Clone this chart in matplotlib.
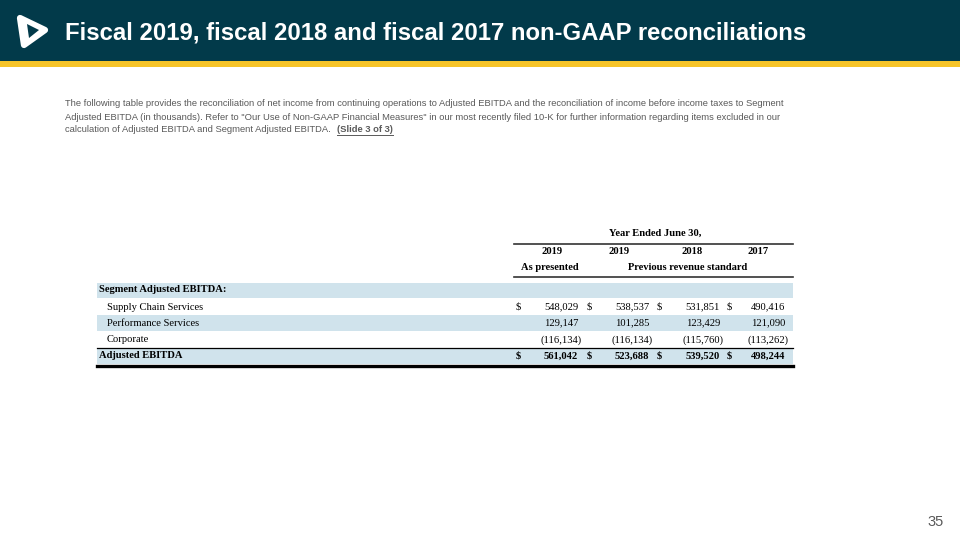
import matplotlib
matplotlib.use("Agg")
import matplotlib.pyplot as plt
from matplotlib.patches import Rectangle, Polygon

# data
title = "Fiscal 2019, fiscal 2018 and fiscal 2017 non-GAAP reconciliations"
intro_lines = [
    "The following table provides the reconciliation of net income from continuing operations to Adjusted EBITDA and the reconciliation of income before income taxes to Segment",
    "Adjusted EBITDA (in thousands). Refer to \"Our Use of Non-GAAP Financial Measures\" in our most recently filed 10-K for further information regarding items excluded in our",
    "calculation of Adjusted EBITDA and Segment Adjusted EBITDA.",
]
slide_note = "(Slide 3 of 3)"
years = ["2019", "2019", "2018", "2017"]
row_labels = ["Segment Adjusted EBITDA:", "Supply Chain Services", "Performance Services",
              "Corporate", "Adjusted EBITDA"]
supply_chain = [548029, 538537, 531851, 490416]
performance = [129147, 101285, 123429, 121090]
corporate = [-116134, -116134, -115760, -113262]
adjusted = [561042, 523688, 539520, 498244]
page_no = "35"

navy = "#023a4a"
gold = "#f6c429"
band = "#d0e3ec"
grey = "#595959"

fig = plt.figure(figsize=(9.6, 5.4), dpi=100)
ax = fig.add_axes([0, 0, 1, 1])
ax.set_xlim(0, 960)
ax.set_ylim(540, 0)
ax.axis("off")

# header band
ax.add_patch(Rectangle((0, 0), 960, 61, color=navy, lw=0))
ax.add_patch(Rectangle((0, 61), 960, 6, color=gold, lw=0))
ax.add_patch(Polygon([(20, 18), (45, 30), (24, 45)], closed=True, fc="white", ec="white",
                     lw=4.5, joinstyle="round"))
ax.add_patch(Polygon([(27, 24), (39, 30), (29, 38)], closed=True, fc=navy, lw=0))
ax.text(65, 33, title, color="white", fontsize=17.2, fontweight="bold",
        family="Liberation Sans", va="center", ha="left")

# intro text
fig.canvas.draw()
renderer = fig.canvas.get_renderer()
last = None
for i, line in enumerate(intro_lines):
    last = ax.text(65, 104 + i * 13, line, color=grey, fontsize=6.75, family="Liberation Sans",
                   va="center", ha="left")
bb = last.get_window_extent(renderer)
note_x = ax.transData.inverted().transform((bb.x1, 0))[0] + 6
note = ax.text(note_x, 130, slide_note, color=grey, fontsize=6.75, family="Liberation Sans",
               fontweight="bold", va="center", ha="left")
nb = note.get_window_extent(renderer)
note_x1 = ax.transData.inverted().transform((nb.x1, 0))[0]
ax.plot([note_x, note_x1], [135, 135], color=grey, lw=0.7)

# table
serif = "Liberation Serif"
fs = 7.6
x0, x1 = 97, 793
dollar_x = [518, 589, 659, 729]
num_x = [578, 649, 720, 785]
year_x = [552, 619, 692, 758]

for y0, y1 in [(283, 298), (315, 331), (348, 364)]:
    ax.add_patch(Rectangle((x0, y0), x1 - x0, y1 - y0, color=band, lw=0))

ax.text(655, 233, "Year Ended June 30,", fontsize=fs, family=serif, fontweight="bold",
        ha="center", va="center")
ax.plot([514, x1], [244, 244], color="#333333", lw=1.2)
for x, yr in zip(year_x, years):
    ax.text(x, 252, yr, fontsize=fs, family=serif, fontweight="bold", ha="center", va="center")
ax.text(550, 268, "As presented", fontsize=fs, family=serif, fontweight="bold",
        ha="center", va="center")
ax.text(688, 268, "Previous revenue standard", fontsize=fs, family=serif, fontweight="bold",
        ha="center", va="center")
ax.plot([514, x1], [277, 277], color="#333333", lw=1.2)

row_y = [290, 307, 323, 340, 356]
bold_rows = {0, 4}
indent = {1, 2, 3}
for i, (lab, y) in enumerate(zip(row_labels, row_y)):
    ax.text(107 if i in indent else 99, y, lab, fontsize=fs, family=serif,
            fontweight="bold" if i in bold_rows else "normal", ha="left", va="center")


def fmt(v):
    return f"{v:,}" if v >= 0 else f"({-v:,})"


series = [(supply_chain, 1, True), (performance, 2, False), (corporate, 3, False), (adjusted, 4, True)]
for vals, r, dollars in series:
    y = row_y[r]
    w = "bold" if r in bold_rows else "normal"
    for j, v in enumerate(vals):
        xx = num_x[j] + (3.5 if v < 0 else 0)
        ax.text(xx, y, fmt(v), fontsize=fs, family=serif, fontweight=w, ha="right", va="center")
        if dollars:
            ax.text(dollar_x[j], y, "$", fontsize=fs, family=serif, fontweight=w,
                    ha="center", va="center")

ax.plot([x0, x1], [347.5, 347.5], color="black", lw=0.9)
ax.plot([x0, x1], [365.5, 365.5], color="black", lw=2.4)

ax.text(944, 522, page_no, color=grey, fontsize=10.5, family="Liberation Sans",
        ha="right", va="center")

fig.savefig("out.png", dpi=100)
